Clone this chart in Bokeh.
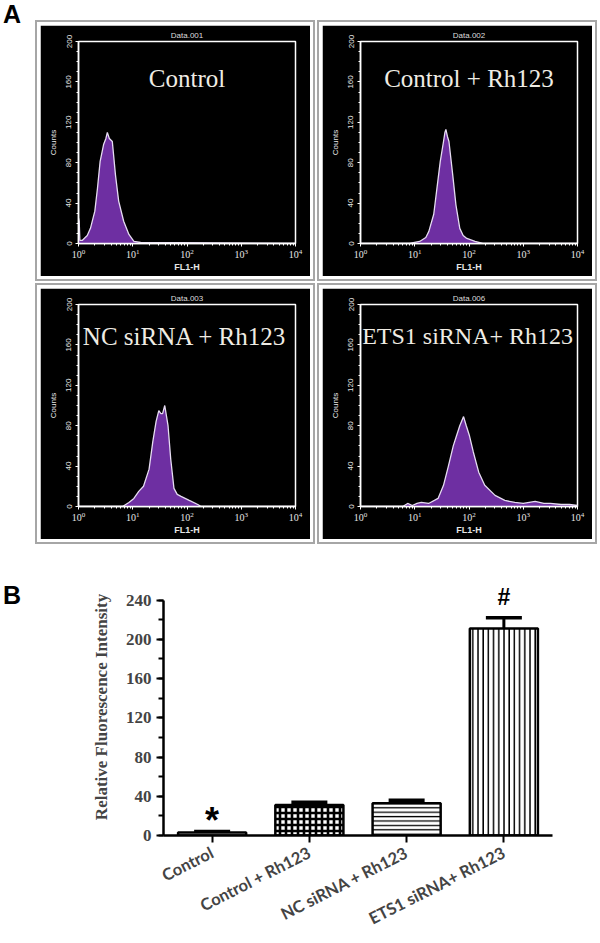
from bokeh.plotting import figure
from bokeh.layouts import row, column, Spacer
from bokeh.models import (Range1d, FactorRange, ColumnDataSource, Whisker, TeeHead, Div,
                          SingleIntervalTicker, FixedTicker, Label)
from bokeh.core.properties import value
from bokeh.embed import file_html
from bokeh.resources import INLINE

# ---------------- Panel A data (flow cytometry histograms) ----------------
panel_titles = ["Data.001", "Data.002", "Data.003", "Data.006"]
panel_labels = ["Control", "Control + Rh123", "NC siRNA + Rh123", "ETS1 siRNA+ Rh123"]

ctrl_fl = [1.0, 1.03, 1.06, 1.17, 1.45, 1.66, 2.0, 2.24, 2.5, 2.9, 3.2, 3.4, 3.7, 4.2, 4.8,
           5.5, 6.8, 8.5, 10.5, 14, 10000]
ctrl_counts = [25, 22, 3, 3, 8, 15, 32, 55, 81, 98, 104, 110, 104, 101, 68, 42, 22, 9, 2, 1, 0]

rh_fl = [1, 8, 12.3, 16, 18.2, 22.4, 25.7, 29.5, 33.9, 36, 37.5, 40, 42.7, 50.1, 57.5, 67.6,
         78, 91.2, 129, 180, 10000]
rh_counts = [0, 0, 2, 6, 12, 29, 55, 81, 101, 110, 113, 106, 101, 68, 38, 15, 8, 5, 2, 0, 0]

nc_fl = [1, 6.5, 8.5, 10.5, 12.9, 15.8, 20, 23.4, 26.9, 30.2, 33, 35.5, 38.9, 44.7, 50.1,
         57.5, 66, 77.6, 110, 158, 182, 10000]
nc_counts = [0, 0, 4, 8, 15, 20, 37, 64, 84, 95, 92, 92, 100, 80, 47, 18, 12, 10, 6, 2, 0, 0]

ets_fl = [1, 6, 7.4, 9, 11, 13.2, 18, 26.9, 33.9, 41.7, 51.3, 58.9, 67.6, 79.4, 89.1, 102,
          120, 151, 195, 302, 457, 700, 1000, 1660, 2400, 3160, 5000, 7080, 10000]
ets_counts = [0, 0, 3, 1, 3, 4, 3, 8, 21, 40, 60, 70, 80, 89, 80, 70, 54, 34, 21, 11, 6, 4,
              3, 5, 3, 3, 2, 2, 1]

count_ticks = [0, 40, 80, 120, 160, 200]
fl_ticks = [1, 10, 100, 1000, 10000]

# ---------------- Panel B data (bar chart) ----------------
groups = ["Control", "Control + Rh123", "NC siRNA + Rh123", "ETS1 siRNA+ Rh123"]
intensity = [3, 31, 33, 211]
intensity_err = [1, 3, 3, 11]
sig_marks = ["*", "", "", "#"]
intensity_ticks = [0, 40, 80, 120, 160, 200, 240]

PURPLE = "#6e2fa2"
EDGE = "#e6dcf2"
LABEL_WHITE = "#efece4"


def hist_panel(title, label, fl, counts, lab_x, lab_y, lab_align, lab_size):
    p = figure(width=270, height=251, x_axis_type="log",
               x_range=Range1d(1, 10000), y_range=Range1d(0, 200),
               output_backend="svg", toolbar_location=None,
               min_border_left=38, min_border_right=15, min_border_top=16, min_border_bottom=33,
               background_fill_color="black", border_fill_color="black",
               outline_line_color="white", outline_line_width=1.5,
               styles={"outline": "2px solid #a6a6a6", "outline-offset": "3px"})
    p.title.text = title
    p.title.align = "center"
    p.title.text_color = "#dddddd"
    p.title.text_font = "Liberation Sans"
    p.title.text_font_size = "8px"
    p.title.text_font_style = "normal"
    p.title.standoff = 4
    p.grid.visible = False

    p.varea(x=fl, y1=0, y2=counts, fill_color=PURPLE)
    p.line(x=fl, y=counts, line_color=EDGE, line_width=1.3)
    p.add_layout(Label(x=lab_x, y=lab_y, text=label, text_font="Liberation Serif",
                       text_font_size=lab_size, text_color=LABEL_WHITE, text_align=lab_align,
                       text_baseline="alphabetic"))

    minor = [m * 10 ** k for k in range(4) for m in range(2, 10)]
    p.xaxis.ticker = FixedTicker(ticks=fl_ticks, minor_ticks=minor)
    p.yaxis.ticker = FixedTicker(ticks=count_ticks,
                                 minor_ticks=list(range(0, 201, 10)))
    for ax in (p.xaxis[0], p.yaxis[0]):
        ax.axis_line_color = "white"
        ax.axis_line_width = 1.5
        ax.major_tick_line_color = "white"
        ax.minor_tick_line_color = "white"
        ax.major_tick_in = 0
        ax.major_tick_out = 3
        ax.minor_tick_in = 0
        ax.minor_tick_out = 2
        ax.major_label_text_color = "#e6e6e6"
        ax.axis_label_text_color = "#e6e6e6"
        ax.axis_label_text_font = "Liberation Sans"
        ax.axis_label_text_font_size = "8px"
    p.yaxis.axis_label = "Counts"
    p.yaxis.axis_label_text_font_style = "normal"
    p.yaxis.major_label_orientation = "vertical"
    p.yaxis.major_label_text_font = "Liberation Sans"
    p.yaxis.major_label_text_font_size = "8px"
    p.yaxis.major_label_standoff = 4
    p.yaxis.axis_label_standoff = 6
    p.xaxis.axis_label = "FL1-H"
    p.xaxis.axis_label_text_font_style = "bold"
    p.xaxis.axis_label_text_font_size = "9px"
    p.xaxis.major_label_text_font = "Liberation Serif"
    p.xaxis.major_label_text_font_size = "10px"
    p.xaxis.major_label_standoff = 2
    p.xaxis.axis_label_standoff = 1
    return p


f1 = hist_panel(panel_titles[0], panel_labels[0], ctrl_fl, ctrl_counts, 100, 163, "center", "25px")
f2 = hist_panel(panel_titles[1], panel_labels[1], rh_fl, rh_counts, 100, 163, "center", "25px")
f3 = hist_panel(panel_titles[2], panel_labels[2], nc_fl, nc_counts, 10 ** 0.08, 168, "left", "25px")
f4 = hist_panel(panel_titles[3], panel_labels[3], ets_fl, ets_counts, 10 ** 0.03, 169, "left", "24px")

# ---------------- Panel B ----------------
upper = [v + e for v, e in zip(intensity, intensity_err)]
src = ColumnDataSource(dict(
    group=groups, value=intensity, upper=upper,
    hatch=[" ", "+", "-", "|"],
    hscale=[6, 6, 4.4, 5.2],
    hweight=[1, 2.6, 1.3, 1.5],
))

pb = figure(width=544, height=395, x_range=FactorRange(*groups, range_padding=0),
            y_range=Range1d(0, 262), output_backend="svg", toolbar_location=None,
            min_border_left=115, min_border_right=40, min_border_top=33, min_border_bottom=102,
            outline_line_color=None, background_fill_color="white", border_fill_color="white")
pb.grid.visible = False
pb.vbar(x="group", top="value", width=0.7, source=src, fill_color="white",
        line_color="black", line_width=2.5, hatch_pattern="hatch", hatch_color="black",
        hatch_scale="hscale", hatch_weight="hweight")
pb.add_layout(Whisker(source=src, base="group", lower="value", upper="upper",
                      line_color="black", line_width=3, lower_head=None,
                      upper_head=TeeHead(size=36, line_width=3.5, line_color="black")))

star_y = [u + 11 for u in upper]
hash_y = [u + 21 for u in upper]
pb.text(x=[groups[0]], y=[star_y[0]], text=[sig_marks[0]], text_font=value("Liberation Sans"),
        text_font_size="36px", text_font_style="bold", text_align="center",
        text_baseline="alphabetic", text_color="black")
pb.text(x=[groups[3]], y=[hash_y[3]], text=[sig_marks[3]], text_font=value("Liberation Sans"),
        text_font_size="23px", text_font_style="bold", text_align="center",
        text_baseline="alphabetic", text_color="black")

ya = pb.yaxis[0]
ya.ticker = SingleIntervalTicker(interval=40, num_minor_ticks=2)
ya.bounds = (0, 240)
ya.axis_line_width = 2.5
ya.major_tick_line_width = 2
ya.minor_tick_line_width = 2
ya.major_tick_out = 7
ya.major_tick_in = 0
ya.minor_tick_out = 5
ya.minor_tick_in = 0
ya.major_label_text_font = "Liberation Serif"
ya.major_label_text_font_style = "bold"
ya.major_label_text_font_size = "17px"
ya.major_label_standoff = 5
ya.axis_label = "Relative Fluorescence Intensity"
ya.axis_label_text_font = "Liberation Serif"
ya.axis_label_text_font_style = "bold"
ya.axis_label_text_font_size = "17px"
ya.axis_label_standoff = 12

xa = pb.xaxis[0]
xa.axis_line_width = 2.5
xa.major_tick_line_width = 2
xa.major_tick_out = 7
xa.major_tick_in = 0
xa.major_label_orientation = 0.47
xa.major_label_text_font = "Lato"
xa.major_label_text_font_style = "bold"
xa.major_label_text_font_size = "16.5px"
xa.major_label_standoff = 9

label_style = {"font-family": "Liberation Sans", "font-weight": "bold",
               "font-size": "25px", "line-height": "1", "color": "black"}
div_a = Div(text='<span style="position:relative;left:3px;top:2px">A</span>',
            width=40, height=28, margin=0, styles=label_style)
div_b = Div(text='<span style="position:relative;left:3px;top:0px">B</span>',
            width=48, height=28, margin=0, styles=label_style)

top_row = row(div_a, column(Spacer(height=25), row(f1, Spacer(width=12), f2)))
mid_row = row(Spacer(width=40), f3, Spacer(width=12), f4)
bot_row = row(column(Spacer(height=38), div_b), pb)

layout = column(top_row, Spacer(height=12), mid_row, Spacer(height=6), bot_row)

open("out.html", "w").write(file_html(layout, INLINE))
